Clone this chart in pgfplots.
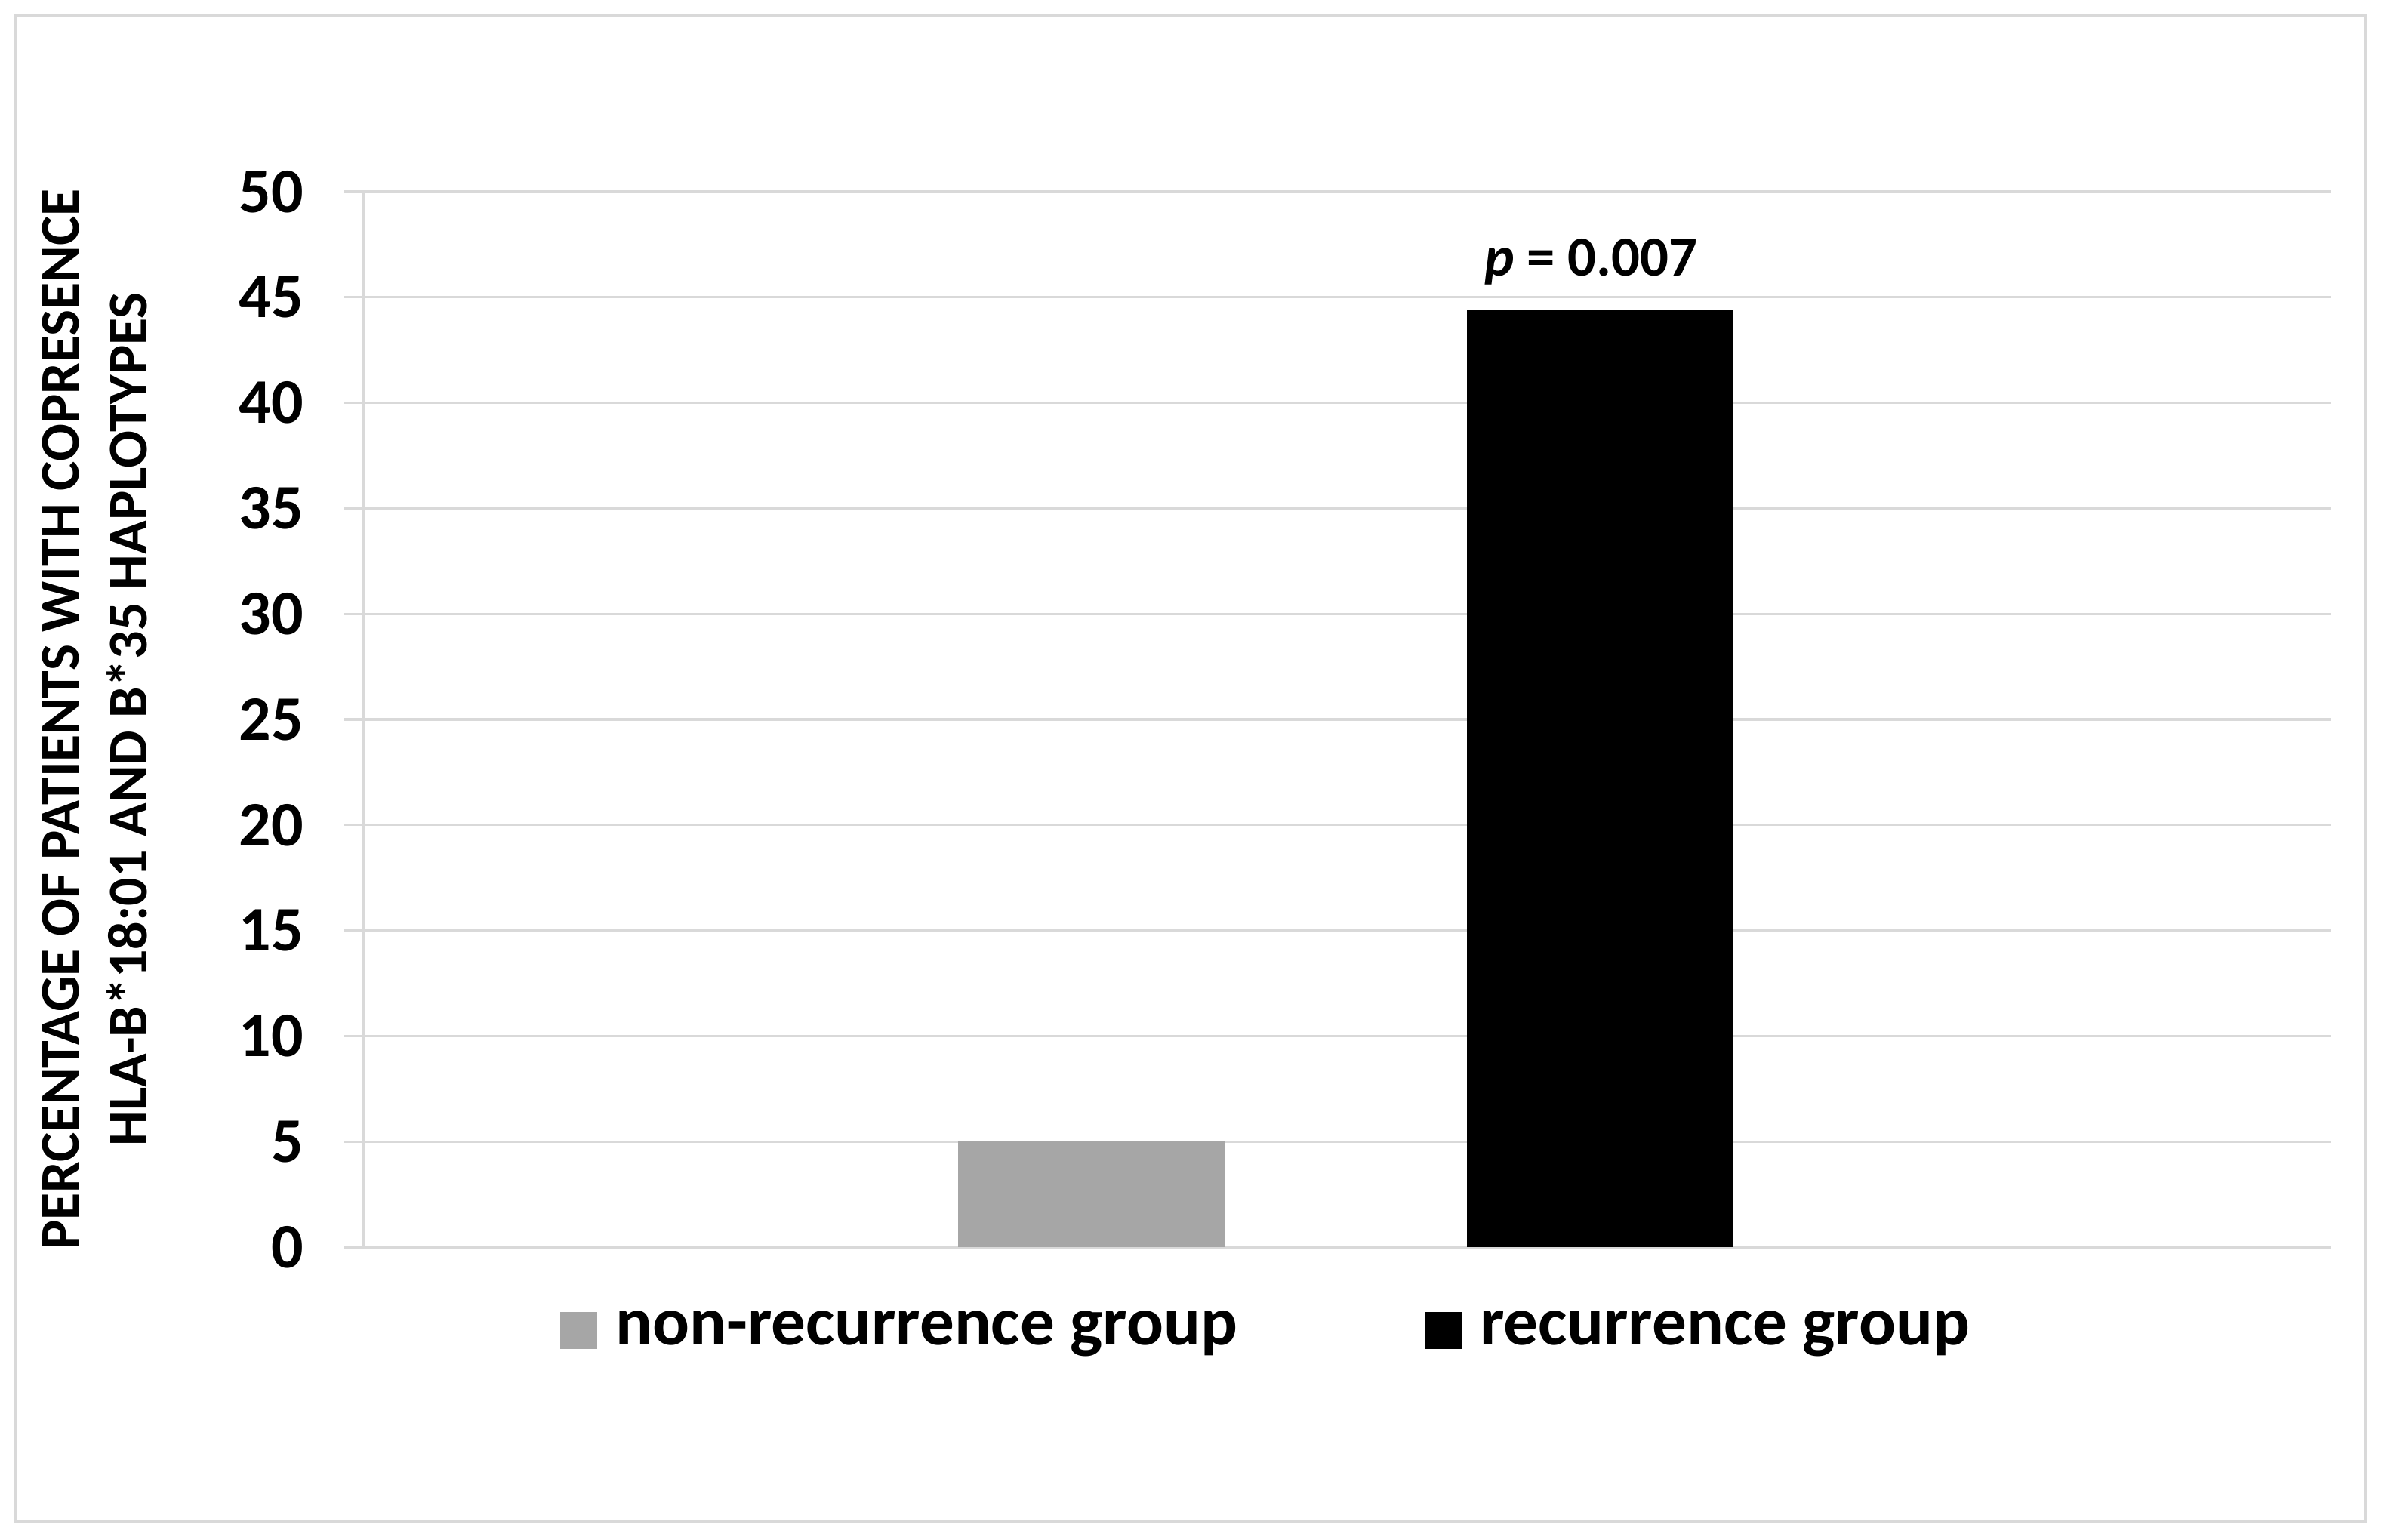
\documentclass[border=0pt]{standalone}
\usepackage{fontspec}
\setmainfont{Carlito}
\usepackage{pgfplots}
\pgfplotsset{compat=1.18}
\definecolor{gridgray}{HTML}{D9D9D9}
\definecolor{bargray}{HTML}{A6A6A6}
\begin{document}
\begin{tikzpicture}
\begin{axis}[
  at={(0pt,0pt)}, anchor=south west,
  scale only axis, width=651.5pt, height=349.5pt,
  xmin=0, xmax=2, ymin=0, ymax=50,
  ytick={0,5,...,50}, xtick=\empty,
  axis x line*=bottom, axis y line*=left,
  axis line style={draw=gridgray, line width=0.8pt, -},
  ymajorgrids, grid style={draw=gridgray, line width=0.8pt},
  tick align=outside, major tick length=6.25pt,
  tick style={draw=gridgray, line width=0.8pt},
  /pgf/number format/assume math mode=true,
  yticklabel style={font=\bfseries\fontsize{21}{25}\selectfont, anchor=east, xshift=-10pt},
  every axis y label/.style={at={(axis description cs:-0.1366,0.5)}, rotate=90, anchor=center, align=center, font=\bfseries\fontsize{18.5}{22.5}\selectfont},
  ylabel={PERCENTAGE OF PATIENTS WITH COPRESENCE\\HLA-B*18:01 AND B*35 HAPLOTYPES},
  legend columns=2,
  legend style={draw=none, fill=none, inner sep=0pt, anchor=west,
    at={(axis description cs:0.0999,-0.079)},
    font=\bfseries\fontsize{22.8}{27}\selectfont,
    /tikz/every odd column/.append style={column sep=4pt},
    /tikz/every even column/.append style={column sep=60pt}},
  legend image code/.code={\fill[#1] (0pt,-6.125pt) rectangle (12.25pt,6.125pt);},
]
\addplot[ybar, bar width=88.25pt, bar shift=0pt, fill=bargray, draw=none] coordinates {(0.7401,5.0)};
\addlegendentry{non-recurrence group}
\addplot[ybar, bar width=88.25pt, bar shift=0pt, fill=black, draw=none] coordinates {(1.2574,44.4)};
\addlegendentry{recurrence group}
\node[anchor=center, font=\bfseries\fontsize{18.7}{23}\selectfont] at (axis cs:1.2574,44.4) [yshift=16pt, xshift=-3pt] {\textit{p} = 0.007};
\end{axis}
\draw[gridgray, line width=1pt] (-115.25pt,-90.75pt) rectangle (663pt,408pt);
\pgfresetboundingbox
\useasboundingbox (-120.25pt,-96.75pt) rectangle (669.5pt,413pt);
\end{tikzpicture}
\end{document}
